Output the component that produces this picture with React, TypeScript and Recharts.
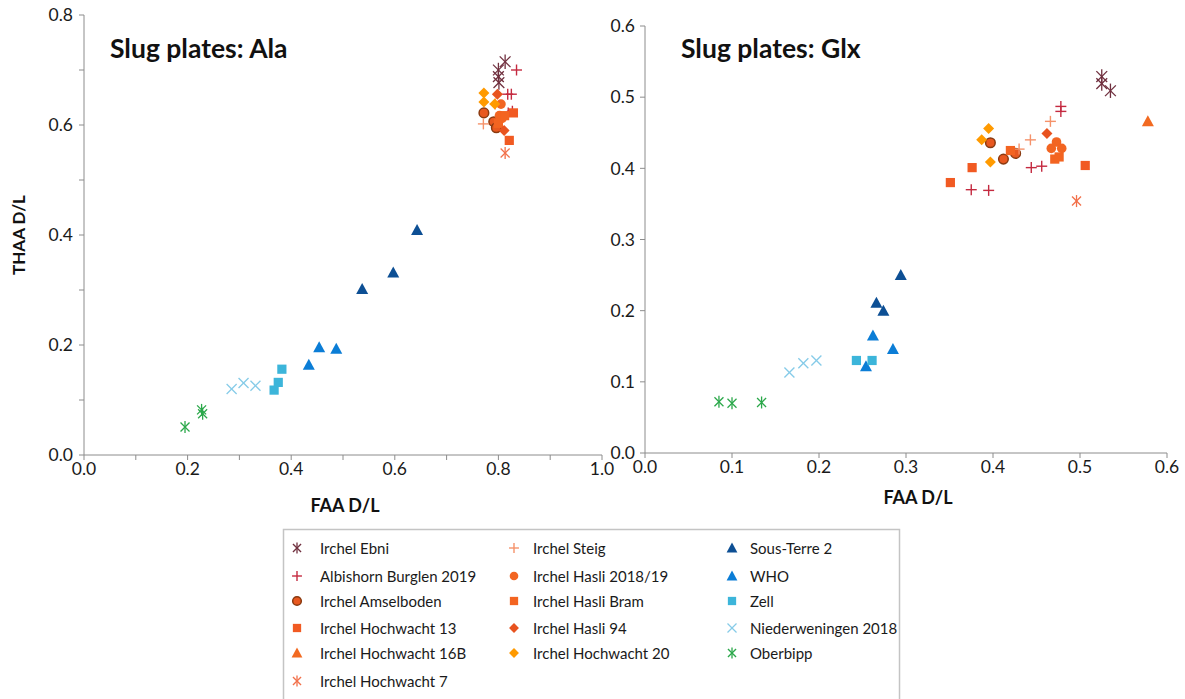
import React from 'react';
import { ScatterChart, Scatter, XAxis, YAxis } from 'recharts';

type Pair = [number, number];

// ---------- Ala (left chart) ----------
const ebniAla: Pair[] = [[0.813, 0.715], [0.8, 0.7], [0.8, 0.688], [0.801, 0.677]];
const albisAla: Pair[] = [[0.835, 0.7], [0.818, 0.656], [0.825, 0.656], [0.819, 0.622], [0.827, 0.625]];
const amselAla: Pair[] = [[0.772, 0.622], [0.791, 0.606], [0.796, 0.595]];
const hw13Ala: Pair[] = [[0.829, 0.622], [0.821, 0.572]];
const hw16bAla: Pair[] = [];
const hw7Ala: Pair[] = [[0.813, 0.549]];
const steigAla: Pair[] = [[0.771, 0.602], [0.794, 0.638]];
const hasli1819Ala: Pair[] = [[0.805, 0.638], [0.802, 0.617], [0.807, 0.612]];
const hasliBramAla: Pair[] = [[0.8, 0.603], [0.812, 0.617]];
const hasli94Ala: Pair[] = [[0.798, 0.656], [0.811, 0.59]];
const hw20Ala: Pair[] = [[0.772, 0.658], [0.772, 0.642], [0.793, 0.638]];
const sousTerreAla: Pair[] = [[0.537, 0.302], [0.597, 0.332], [0.643, 0.409]];
const whoAla: Pair[] = [[0.434, 0.164], [0.454, 0.196], [0.487, 0.193]];
const zellAla: Pair[] = [[0.382, 0.156], [0.375, 0.132], [0.367, 0.118]];
const niederAla: Pair[] = [[0.285, 0.12], [0.308, 0.131], [0.331, 0.126]];
const oberbippAla: Pair[] = [[0.195, 0.051], [0.227, 0.082], [0.229, 0.075]];

// ---------- Glx (right chart) ----------
const ebniGlx: Pair[] = [[0.525, 0.529], [0.525, 0.519], [0.535, 0.509]];
const albisGlx: Pair[] = [[0.478, 0.487], [0.478, 0.48], [0.444, 0.401], [0.456, 0.403], [0.375, 0.37], [0.395, 0.369]];
const amselGlx: Pair[] = [[0.397, 0.436], [0.412, 0.413], [0.426, 0.421]];
const hw13Glx: Pair[] = [[0.351, 0.38], [0.376, 0.401], [0.506, 0.404]];
const hw16bGlx: Pair[] = [[0.578, 0.466]];
const hw7Glx: Pair[] = [[0.496, 0.354]];
const steigGlx: Pair[] = [[0.466, 0.466], [0.443, 0.44], [0.43, 0.427]];
const hasli1819Glx: Pair[] = [[0.473, 0.437], [0.467, 0.428], [0.479, 0.428]];
const hasliBramGlx: Pair[] = [[0.42, 0.425], [0.471, 0.413], [0.476, 0.416]];
const hasli94Glx: Pair[] = [[0.462, 0.449]];
const hw20Glx: Pair[] = [[0.395, 0.456], [0.387, 0.44], [0.397, 0.409]];
const sousTerreGlx: Pair[] = [[0.294, 0.25], [0.266, 0.211], [0.274, 0.2]];
const whoGlx: Pair[] = [[0.262, 0.165], [0.285, 0.146], [0.254, 0.122]];
const zellGlx: Pair[] = [[0.243, 0.13], [0.261, 0.13]];
const niederGlx: Pair[] = [[0.166, 0.113], [0.182, 0.126], [0.197, 0.13]];
const oberbippGlx: Pair[] = [[0.085, 0.072], [0.1, 0.07], [0.134, 0.071]];

// ---------- ticks ----------
const alaXTicks = [0, 0.1, 0.2, 0.3, 0.4, 0.5, 0.6, 0.7, 0.8, 0.9, 1.0];
const alaYTicks = [0, 0.1, 0.2, 0.3, 0.4, 0.5, 0.6, 0.7, 0.8];
const glxXTicks = [0, 0.1, 0.2, 0.3, 0.4, 0.5, 0.6];
const glxYTicks = [0, 0.1, 0.2, 0.3, 0.4, 0.5, 0.6];

type Kind = 'asterisk' | 'plus' | 'circle' | 'square' | 'triangle' | 'diamond' | 'x';

interface SeriesDef {
  name: string;
  kind: Kind;
  color: string;
  stroke?: string;
  size?: number;
  ala: Pair[];
  glx: Pair[];
}

const series: SeriesDef[] = [
  { name: 'Irchel Ebni', kind: 'asterisk', color: '#70303F', size: 1.2, ala: ebniAla, glx: ebniGlx },
  { name: 'Albishorn Burglen 2019', kind: 'plus', color: '#C42A40', ala: albisAla, glx: albisGlx },
  { name: 'Irchel Amselboden', kind: 'circle', color: '#E8581F', stroke: '#8A3A10', ala: amselAla, glx: amselGlx },
  { name: 'Irchel Hochwacht 13', kind: 'square', color: '#F15A22', ala: hw13Ala, glx: hw13Glx },
  { name: 'Irchel Hochwacht 16B', kind: 'triangle', color: '#F26A21', ala: hw16bAla, glx: hw16bGlx },
  { name: 'Irchel Hochwacht 7', kind: 'asterisk', color: '#F2704A', ala: hw7Ala, glx: hw7Glx },
  { name: 'Irchel Steig', kind: 'plus', color: '#F5926A', ala: steigAla, glx: steigGlx },
  { name: 'Irchel Hasli 2018/19', kind: 'circle', color: '#F26522', ala: hasli1819Ala, glx: hasli1819Glx },
  { name: 'Irchel Hasli Bram', kind: 'square', color: '#F36421', ala: hasliBramAla, glx: hasliBramGlx },
  { name: 'Irchel Hasli 94', kind: 'diamond', color: '#E8531F', ala: hasli94Ala, glx: hasli94Glx },
  { name: 'Irchel Hochwacht 20', kind: 'diamond', color: '#FF9A00', ala: hw20Ala, glx: hw20Glx },
  { name: 'Sous-Terre 2', kind: 'triangle', color: '#0D4F94', ala: sousTerreAla, glx: sousTerreGlx },
  { name: 'WHO', kind: 'triangle', color: '#0B7DD6', ala: whoAla, glx: whoGlx },
  { name: 'Zell', kind: 'square', color: '#3CB5DA', ala: zellAla, glx: zellGlx },
  { name: 'Niederweningen 2018', kind: 'x', color: '#86CBE8', ala: niederAla, glx: niederGlx },
  { name: 'Oberbipp', kind: 'asterisk', color: '#2BA84A', ala: oberbippAla, glx: oberbippGlx },
];

const legendCols: string[][] = [
  ['Irchel Ebni', 'Albishorn Burglen 2019', 'Irchel Amselboden', 'Irchel Hochwacht 13', 'Irchel Hochwacht 16B', 'Irchel Hochwacht 7'],
  ['Irchel Steig', 'Irchel Hasli 2018/19', 'Irchel Hasli Bram', 'Irchel Hasli 94', 'Irchel Hochwacht 20'],
  ['Sous-Terre 2', 'WHO', 'Zell', 'Niederweningen 2018', 'Oberbipp'],
];

const toPts = (a: Pair[]) => a.map(([x, y]) => ({ x, y }));

const FONT = 'Lato, "Open Sans", sans-serif';
const AXIS = '#8c8c8c';

function Marker({ cx, cy, kind, color, stroke, s = 1 }: { cx: number; cy: number; kind: Kind; color: string; stroke?: string; s?: number }) {
  if (cx == null || cy == null) return null;
  switch (kind) {
    case 'asterisk': {
      const d = 4.5 * s;
      const v = 6 * s;
      return (
        <g stroke={color} strokeWidth={1.3} fill="none">
          <line x1={cx - d} y1={cy - d} x2={cx + d} y2={cy + d} />
          <line x1={cx - d} y1={cy + d} x2={cx + d} y2={cy - d} />
          <line x1={cx} y1={cy - v} x2={cx} y2={cy + v} />
        </g>
      );
    }
    case 'plus': {
      const d = 5.5 * s;
      return (
        <g stroke={color} strokeWidth={1.4}>
          <line x1={cx - d} y1={cy} x2={cx + d} y2={cy} />
          <line x1={cx} y1={cy - d} x2={cx} y2={cy + d} />
        </g>
      );
    }
    case 'x': {
      const d = 5 * s;
      return (
        <g stroke={color} strokeWidth={1.3}>
          <line x1={cx - d} y1={cy - d} x2={cx + d} y2={cy + d} />
          <line x1={cx - d} y1={cy + d} x2={cx + d} y2={cy - d} />
        </g>
      );
    }
    case 'circle':
      return <circle cx={cx} cy={cy} r={4.8 * s} fill={color} stroke={stroke || 'none'} strokeWidth={stroke ? 1.5 : 0} />;
    case 'square': {
      const d = 4.6 * s;
      return <rect x={cx - d} y={cy - d} width={2 * d} height={2 * d} fill={color} />;
    }
    case 'triangle': {
      const w = 6 * s;
      return <polygon points={`${cx},${cy - 6 * s} ${cx + w},${cy + 5 * s} ${cx - w},${cy + 5 * s}`} fill={color} />;
    }
    case 'diamond': {
      const d = 5.5 * s;
      return <polygon points={`${cx},${cy - d} ${cx + d},${cy} ${cx},${cy + d} ${cx - d},${cy}`} fill={color} />;
    }
  }
  return null;
}

const tickStyle = { fill: '#1a1a1a', fontSize: 17.5, fontFamily: FONT };

function renderSeries(key: 'ala' | 'glx') {
  return series.map((sd) => (
    <Scatter
      key={sd.name + key}
      name={sd.name}
      data={toPts(sd[key])}
      isAnimationActive={false}
      shape={(p: any) => <Marker cx={p.cx} cy={p.cy} kind={sd.kind} color={sd.color} stroke={sd.stroke} s={sd.size || 1} />}
    />
  ));
}

export default function App() {
  return (
    <div style={{ position: 'absolute', left: 0, top: 0, width: 1185, height: 699, background: '#fff', overflow: 'hidden', fontFamily: FONT }}>
      {/* Left chart: Ala */}
      <div style={{ position: 'absolute', left: 0, top: 0 }}>
        <ScatterChart width={620} height={520} margin={{ top: 15, right: 18, bottom: 0, left: 0 }}>
          <XAxis
            type="number"
            dataKey="x"
            domain={[0, 1]}
            ticks={alaXTicks}
            interval={0}
            tickFormatter={(v: number) => (Math.round(v * 10) % 2 === 0 ? v.toFixed(1) : '')}
            axisLine={{ stroke: AXIS }}
            tickLine={{ stroke: AXIS }}
            tickSize={5}
            tickMargin={3}
            tick={tickStyle}
            height={65}
          />
          <YAxis
            type="number"
            dataKey="y"
            domain={[0, 0.8]}
            ticks={alaYTicks}
            interval={0}
            tickFormatter={(v: number) => (Math.round(v * 10) % 2 === 0 ? v.toFixed(1) : '')}
            axisLine={{ stroke: AXIS }}
            tickLine={{ stroke: AXIS }}
            tickSize={5}
            tickMargin={6}
            tick={tickStyle}
            width={84}
          />
          {renderSeries('ala')}
        </ScatterChart>
      </div>

      {/* Right chart: Glx */}
      <div style={{ position: 'absolute', left: 590, top: 0 }}>
        <ScatterChart width={595} height={520} margin={{ top: 26, right: 18, bottom: 0, left: 0 }}>
          <XAxis
            type="number"
            dataKey="x"
            domain={[0, 0.6]}
            ticks={glxXTicks}
            interval={0}
            tickFormatter={(v: number) => v.toFixed(1)}
            axisLine={{ stroke: AXIS }}
            tickLine={{ stroke: AXIS }}
            tickSize={5}
            tickMargin={3}
            tick={tickStyle}
            height={67}
          />
          <YAxis
            type="number"
            dataKey="y"
            domain={[0, 0.6]}
            ticks={glxYTicks}
            interval={0}
            tickFormatter={(v: number) => v.toFixed(1)}
            axisLine={{ stroke: AXIS }}
            tickLine={{ stroke: AXIS }}
            tickSize={5}
            tickMargin={5}
            tick={tickStyle}
            width={55}
          />
          {renderSeries('glx')}
        </ScatterChart>
      </div>

      {/* Text overlay and legend */}
      <svg width={1185} height={699} style={{ position: 'absolute', left: 0, top: 0, pointerEvents: 'none' }}>
        <text x={110} y={48} dominantBaseline="central" fontFamily={FONT} fontWeight={700} fontSize={26.5} fill="#111">Slug plates: Ala</text>
        <text x={681} y={48} dominantBaseline="central" fontFamily={FONT} fontWeight={700} fontSize={26.5} fill="#111">Slug plates: Glx</text>
        <text x={345} y={505} textAnchor="middle" dominantBaseline="central" fontFamily={FONT} fontWeight={700} fontSize={18} fill="#111">FAA D/L</text>
        <text x={918} y={497} textAnchor="middle" dominantBaseline="central" fontFamily={FONT} fontWeight={700} fontSize={18} fill="#111">FAA D/L</text>
        <text x={18} y={235} transform="rotate(-90 18 235)" textAnchor="middle" dominantBaseline="central" fontFamily={FONT} fontWeight={700} fontSize={17} fill="#111">THAA D/L</text>

        <rect x={283.5} y={529.5} width={616} height={200} fill="none" stroke="#c4c4c4" strokeWidth={1.5} />
        {legendCols.map((col, ci) => {
          const mx = [297, 514, 732][ci];
          const tx = [320, 533, 750][ci];
          const rows = [548, 576, 601, 628, 653, 681];
          return col.map((name, ri) => {
            const sd = series.find((s) => s.name === name)!;
            const cy = rows[ri];
            return (
              <g key={name}>
                <Marker cx={mx} cy={cy} kind={sd.kind} color={sd.color} stroke={sd.stroke} s={0.9} />
                <text x={tx} y={cy} dominantBaseline="central" fontFamily={FONT} fontSize={15} fill="#1a1a1a">{name}</text>
              </g>
            );
          });
        })}
      </svg>
    </div>
  );
}
